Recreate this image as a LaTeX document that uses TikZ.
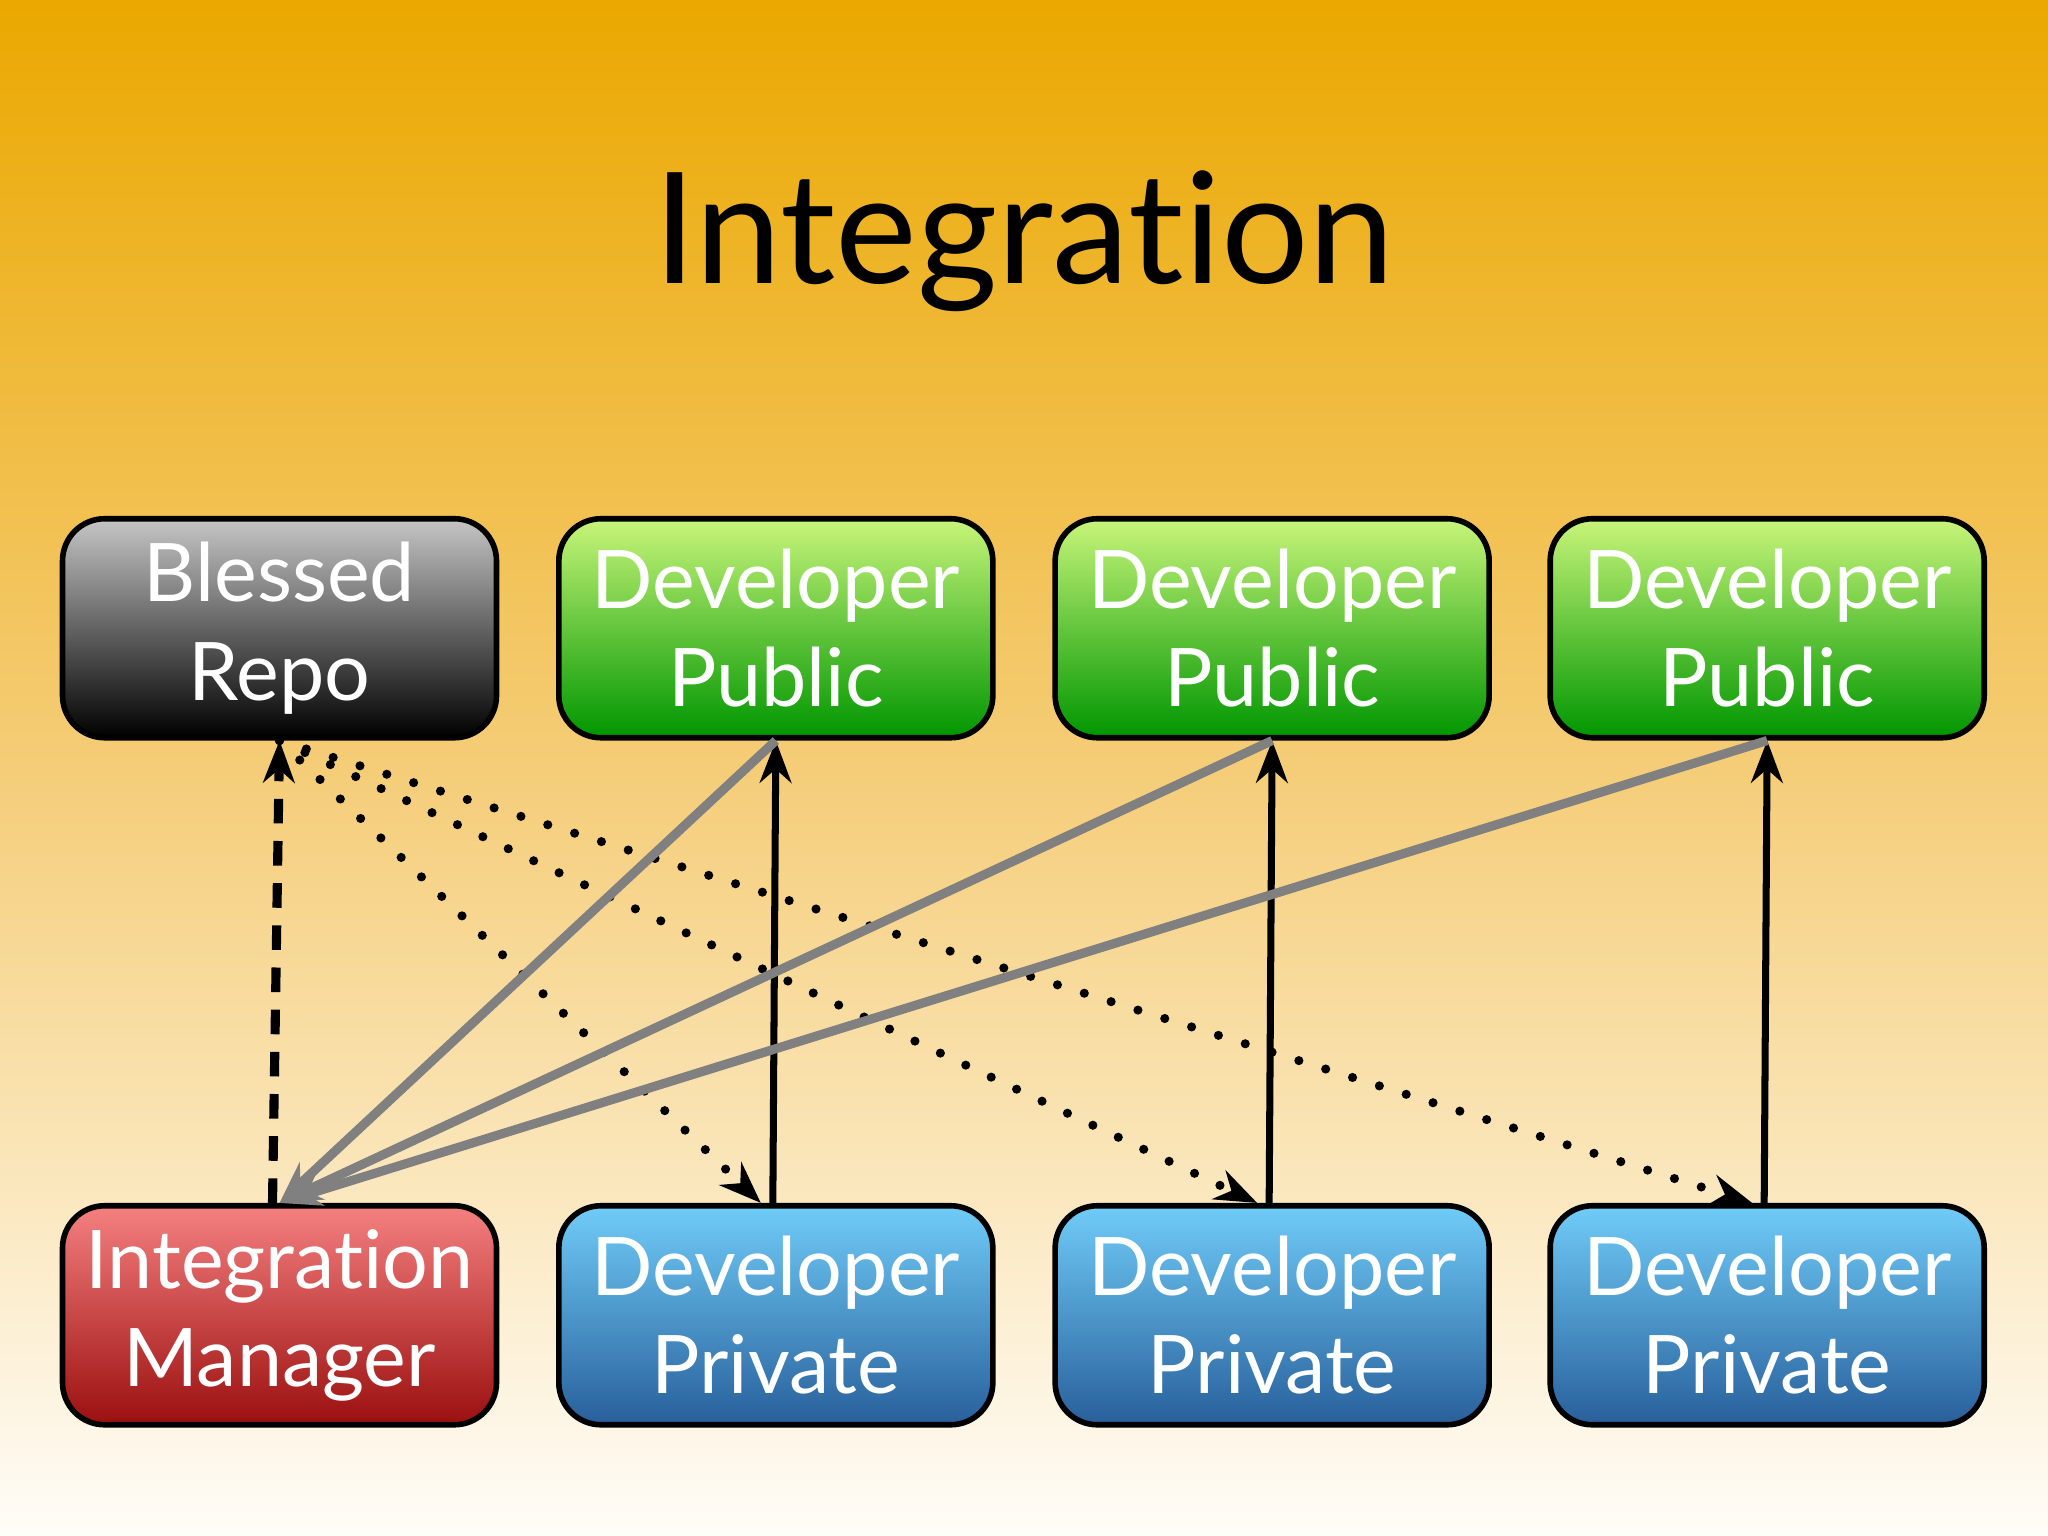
\documentclass[tikz,border=0pt]{standalone}
\usepackage{fontspec}
\setmainfont[Ligatures={NoCommon,NoRare}]{Lato}
\usetikzlibrary{arrows.meta,calc}
\definecolor{bgtop}{HTML}{EBA800}
\definecolor{bgbot}{HTML}{FFFDF8}
\tikzset{
 repo/.style={draw=black,line width=1.6pt,rounded corners=12pt,minimum width=4.34cm,minimum height=2.19cm,text width=4.2cm,inner sep=0pt,text=white,font=\fontsize{23}{28}\selectfont,align=center},
 grayb/.style={repo,top color=gray!45,bottom color=black},
 greenb/.style={repo,top color={rgb,255:red,200;green,245;blue,122},bottom color={rgb,255:red,0;green,150;blue,0}},
 redb/.style={repo,top color={rgb,255:red,245;green,128;blue,128},bottom color={rgb,255:red,155;green,15;blue,15}},
 blueb/.style={repo,top color={rgb,255:red,112;green,204;blue,248},bottom color={rgb,255:red,40;green,95;blue,155}},
 arr/.style={-{Stealth[length=12pt,width=9pt]},line width=2pt},
 dots/.style={arr,line width=2.6pt,line cap=round,dash pattern=on 0pt off 8pt},
 dash2/.style={arr,line width=2.6pt,dash pattern=on 7pt off 5pt}
}
\begin{document}
\begin{tikzpicture}[x=0.01306cm,y=-0.01306cm]
\fill[top color=bgtop,bottom color=bgbot,middle color={rgb,255:red,245;green,205;blue,120}] (0,0) rectangle (1568,1176);
\useasboundingbox (0,0) rectangle (1568,1176);
\node[font=\fontsize{44}{50}\selectfont] (title) at (784,185) {Integration};
\node[grayb] (br) at (214,481) {Blessed\\Repo};
\node[greenb] (pu1) at (594,481) {Developer\\Public};
\node[greenb] (pu2) at (974,481) {Developer\\Public};
\node[greenb] (pu3) at (1353,481) {Developer\\Public};
\node[redb] (im) at (214,1007) {Integration\\Manager};
\node[blueb] (pr1) at (594,1007) {Developer\\Private};
\node[blueb] (pr2) at (974,1007) {Developer\\Private};
\node[blueb] (pr3) at (1353,1007) {Developer\\Private};
\draw[dash2] ([xshift=-0.07cm]im.north) -- (br.south);
\foreach \p in {pr1,pr2,pr3}{
 \draw[dots] (br.south) -- ([xshift=-0.15cm]\p.north);
 \draw[arr] ([xshift=-0.03cm]\p.north) -- (\p.north |- br.south);
}
\foreach \p in {pu1,pu2,pu3}{
 \draw[arr,gray,line width=2.6pt] (\p.south) -- (im.north);
}
\end{tikzpicture}
\end{document}
